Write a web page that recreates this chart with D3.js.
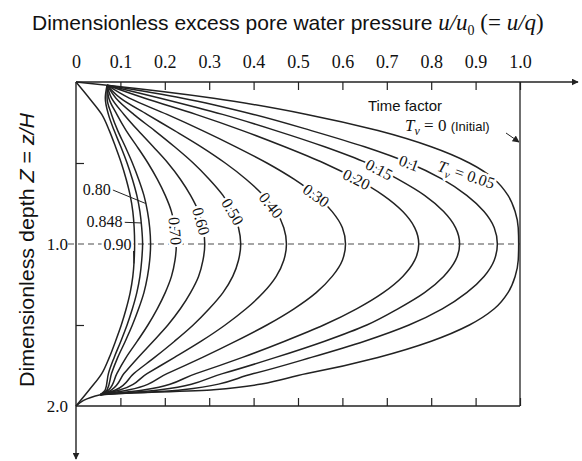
<!DOCTYPE html>
<html>
<head>
<meta charset="utf-8">
<script src="https://cdn.jsdelivr.net/npm/d3@7"></script>
<style>
  body { margin: 0; background: #fff; }
  svg { display: block; }
</style>
</head>
<body>
<div id="chart"></div>
<script>
// isochrones: u/u0 at each depth Z, one list per time factor
// (null = the curve is not drawn through that depth; the scanned curves meet at a
//  point just off the corner, only the outer ones reach the corners themselves)
const timeFactors = [0.05, 0.1, 0.15, 0.2, 0.3, 0.4, 0.5, 0.6, 0.7, 0.8, 0.848, 0.9]
const depths = [0, 0.02, 0.1, 0.2, 0.3, 0.4, 0.5, 0.6, 0.7, 0.8, 0.9, 1.0,
                1.1, 1.2, 1.3, 1.4, 1.5, 1.6, 1.7, 1.8, 1.9, 1.93, 2.0]

const u_005 = [0, 0.07, 0.31, 0.52, 0.68, 0.80, 0.886, 0.942, 0.973, 0.989, 0.996, 0.997, 0.996, 0.989, 0.973, 0.942, 0.886, 0.80, 0.68, 0.52, 0.31, 0.055, 0]
const u_010 = [null, 0.07, 0.24, 0.40, 0.53, 0.65, 0.75, 0.825, 0.88, 0.919, 0.942, 0.949, 0.942, 0.919, 0.88, 0.825, 0.75, 0.65, 0.53, 0.40, 0.24, 0.055, null]
const u_015 = [null, 0.07, 0.19, 0.33, 0.45, 0.56, 0.655, 0.725, 0.785, 0.828, 0.855, 0.864, 0.855, 0.828, 0.785, 0.725, 0.655, 0.56, 0.45, 0.33, 0.19, 0.055, null]
const u_020 = [null, 0.07, 0.155, 0.27, 0.375, 0.47, 0.558, 0.632, 0.692, 0.736, 0.763, 0.772, 0.763, 0.736, 0.692, 0.632, 0.558, 0.47, 0.375, 0.27, 0.155, 0.055, null]
const u_030 = [null, 0.07, 0.12, 0.205, 0.285, 0.36, 0.43, 0.491, 0.541, 0.577, 0.600, 0.607, 0.600, 0.577, 0.541, 0.491, 0.43, 0.36, 0.285, 0.205, 0.12, 0.055, null]
const u_040 = [null, 0.07, 0.10, 0.16, 0.222, 0.282, 0.336, 0.383, 0.422, 0.451, 0.468, 0.474, 0.468, 0.451, 0.422, 0.383, 0.336, 0.282, 0.222, 0.16, 0.10, 0.055, null]
const u_050 = [null, 0.07, 0.09, 0.13, 0.177, 0.222, 0.264, 0.300, 0.331, 0.353, 0.366, 0.371, 0.366, 0.353, 0.331, 0.300, 0.264, 0.222, 0.177, 0.13, 0.09, 0.055, null]
const u_060 = [null, 0.07, 0.08, 0.108, 0.14, 0.174, 0.207, 0.235, 0.258, 0.276, 0.286, 0.290, 0.286, 0.276, 0.258, 0.235, 0.207, 0.174, 0.14, 0.108, 0.08, 0.055, null]
const u_070 = [null, 0.07, 0.074, 0.092, 0.113, 0.138, 0.162, 0.183, 0.201, 0.215, 0.223, 0.226, 0.223, 0.215, 0.201, 0.183, 0.162, 0.138, 0.113, 0.092, 0.074, 0.055, null]
const u_080 = [null, 0.07, 0.07, 0.08, 0.094, 0.111, 0.127, 0.141, 0.153, 0.161, 0.166, 0.168, 0.166, 0.161, 0.153, 0.141, 0.127, 0.111, 0.094, 0.08, 0.07, 0.055, null]
const u_0848 = [null, 0.07, 0.066, 0.073, 0.086, 0.101, 0.115, 0.127, 0.137, 0.144, 0.148, 0.150, 0.148, 0.144, 0.137, 0.127, 0.115, 0.101, 0.086, 0.073, 0.066, 0.055, null]
const u_090 = [0, null, 0.03, 0.058, 0.075, 0.089, 0.102, 0.113, 0.122, 0.128, 0.131, 0.132, 0.131, 0.128, 0.122, 0.113, 0.102, 0.089, 0.075, 0.058, 0.03, null, 0]
const isochrones = [u_005, u_010, u_015, u_020, u_030, u_040, u_050, u_060, u_070, u_080, u_0848, u_090]

// axis ticks
const topTicks = [0, 0.1, 0.2, 0.3, 0.4, 0.5, 0.6, 0.7, 0.8, 0.9, 1.0]
const sideTicks = [0.5, 1.0, 1.5, 2.0]
const sideLabels = {1: '1.0', 2: '2.0'}

// labels written along the curves, and the three with leader lines on the left
const curveLabels = ['0.1', '0.15', '0.20', '0.30', '0.40', '0.50', '0.60', '0.70']
const leaderLabels = ['0.80', '0.848', '0.90']

const width = 582, height = 461
const x = d3.scaleLinear([0, 1], [76, 520])
const y = d3.scaleLinear([0, 2], [82, 406])

const SANS = "'Liberation Sans', Arial, sans-serif"
const SERIF = "'Liberation Serif', 'Times New Roman', serif"
const INK = '#222'

const svg = d3.select('#chart').append('svg')
  .attr('width', width)
  .attr('height', height)
  .attr('viewBox', [0, 0, width, height])

const defs = svg.append('defs')
defs.append('marker')
  .attr('id', 'arrow')
  .attr('viewBox', '0 0 10 10')
  .attr('refX', 9).attr('refY', 5)
  .attr('markerWidth', 7).attr('markerHeight', 7)
  .attr('markerUnits', 'userSpaceOnUse')
  .attr('orient', 'auto')
  .append('path').attr('d', 'M0,0L10,5L0,10z').attr('fill', INK)

// title: sans words, then the serif ratio, all in one text
const title = svg.append('text')
  .attr('x', 32).attr('y', 30)
  .attr('font-size', 21).attr('fill', '#111')
title.append('tspan').attr('font-family', SANS)
  .text('Dimensionless excess pore water pressure ')
const tt = title.append('tspan').attr('font-family', SERIF).attr('font-size', 23)
tt.append('tspan').attr('font-style', 'italic').text('u/u')
tt.append('tspan').attr('font-size', 14).attr('dy', 5).text('0')
tt.append('tspan').attr('dy', -5).text(' (= ')
tt.append('tspan').attr('font-style', 'italic').text('u/q')
tt.append('tspan').text(')')

// y title
const yt = svg.append('text')
  .attr('transform', `translate(34,250) rotate(-90)`)
  .attr('text-anchor', 'middle')
  .attr('font-family', SANS).attr('font-size', 21).attr('fill', '#111')
  .attr('textLength', 274).attr('lengthAdjust', 'spacingAndGlyphs')
yt.append('tspan').text('Dimensionless depth ')
yt.append('tspan').attr('font-style', 'italic').text('Z')
yt.append('tspan').text(' = ')
yt.append('tspan').attr('font-style', 'italic').text('z/H')

// dashed mid line
svg.append('line')
  .attr('x1', 68).attr('x2', x(1))
  .attr('y1', y(1)).attr('y2', y(1))
  .attr('stroke', '#888').attr('stroke-width', 1.6)
  .attr('stroke-dasharray', '6,4')

// frame: right side (initial condition) and bottom
svg.append('line')
  .attr('x1', x(1)).attr('x2', x(1)).attr('y1', y(0)).attr('y2', y(2))
  .attr('stroke', INK).attr('stroke-width', 1.3)

const bottomAxis = svg.append('g')
  .attr('transform', `translate(0,${y(2)})`)
  .call(d3.axisBottom(x).tickValues(topTicks).tickSize(-8).tickFormat(''))
bottomAxis.select('.domain').remove()
bottomAxis.select('.tick line').remove()
svg.append('line')
  .attr('x1', x(0)).attr('x2', x(1)).attr('y1', y(2)).attr('y2', y(2))
  .attr('stroke', INK).attr('stroke-width', 1.3)

// top axis with arrow
const topAxis = svg.append('g')
  .attr('transform', `translate(0,${y(0)})`)
  .call(d3.axisTop(x).tickValues(topTicks).tickSize(-8).tickPadding(14)
    .tickFormat(d => d === 0 ? '0' : d.toFixed(1)))
topAxis.select('.domain').remove()
topAxis.selectAll('text').attr('font-family', SERIF).attr('font-size', 18).attr('fill', '#111')
topAxis.select('.tick line').remove()
svg.append('line')
  .attr('x1', x(0)).attr('x2', 578).attr('y1', y(0)).attr('y2', y(0))
  .attr('stroke', INK).attr('stroke-width', 1.4)
  .attr('marker-end', 'url(#arrow)')

// left axis with arrow
const leftAxis = svg.append('g')
  .attr('transform', `translate(${x(0)},0)`)
  .call(d3.axisLeft(y).tickValues(sideTicks).tickSize(-8).tickPadding(8)
    .tickFormat(d => sideLabels[d] || ''))
leftAxis.select('.domain').remove()
leftAxis.selectAll('.tick').filter(d => d % 1 === 0).select('line').remove()
leftAxis.selectAll('text').attr('font-family', SERIF).attr('font-size', 17).attr('fill', '#111')
svg.append('line')
  .attr('x1', x(0)).attr('x2', x(0)).attr('y1', y(0)).attr('y2', 459)
  .attr('stroke', INK).attr('stroke-width', 1.4)
  .attr('marker-end', 'url(#arrow)')

svg.selectAll('.tick line').attr('stroke', INK).attr('stroke-width', 1.2)

// isochrones
const line = d3.line()
  .x(d => x(d[0]))
  .y(d => y(d[1]))
  .curve(d3.curveMonotoneY)

const series = timeFactors.map((t, i) => ({
  t,
  points: depths.map((z, j) => [isochrones[i][j], z]).filter(d => d[0] != null)
}))

svg.append('g')
  .selectAll('path')
  .data(series)
  .join('path')
  .attr('d', d => line(d.points))
  .attr('fill', 'none')
  .attr('stroke', INK)
  .attr('stroke-width', 1.5)

// point on a curve at depth z, and the slope there (pixels)
const at = (s, z) => {
  const p = s.points
  let k = 1
  while (k < p.length - 1 && p[k][1] < z) k++
  const a = p[k - 1], b = p[k]
  const f = (z - a[1]) / (b[1] - a[1])
  const u = a[0] + f * (b[0] - a[0])
  const ang = Math.atan2(y(b[1]) - y(a[1]), x(b[0]) - x(a[0])) * 180 / Math.PI
  return { px: x(u), py: y(z), ang }
}
const seriesOf = t => series.find(s => s.t === t)

const halo = sel => sel
  .attr('stroke', '#fff').attr('stroke-width', 5)
  .attr('paint-order', 'stroke')

// labels riding on the curves
const labelDepth = { '0.1': 0.5, '0.15': 0.54, '0.20': 0.6, '0.30': 0.7, '0.40': 0.76, '0.50': 0.8, '0.60': 0.86, '0.70': 0.92 }
curveLabels.forEach(txt => {
  const p = at(seriesOf(+txt), labelDepth[txt])
  svg.append('text')
    .attr('transform', `translate(${p.px},${p.py}) rotate(${p.ang})`)
    .attr('text-anchor', 'middle').attr('dy', '0.35em')
    .attr('font-family', SERIF).attr('font-size', 16).attr('fill', '#111')
    .call(halo)
    .text(txt)
})

// Tv = 0.05 on the outermost curve
{
  const p = at(seriesOf(0.05), 0.52)
  const g = svg.append('text')
    .attr('transform', `translate(${p.px - 36},${p.py - 1}) rotate(${p.ang * 0.55})`)
    .attr('dy', '0.35em')
    .attr('font-family', SERIF).attr('font-size', 16).attr('fill', '#111')
    .call(halo)
  g.append('tspan').attr('font-style', 'italic').text('T')
  g.append('tspan').attr('font-style', 'italic').attr('font-size', 11).attr('dy', 4).text('v')
  g.append('tspan').attr('dy', -4).text(' = 0.05')
}

// leader labels on the left
const leaderPos = {
  '0.80': { lx: 0.078, lz: 0.66, cz: 0.75 },
  '0.848': { lx: 0.105, lz: 0.86, cz: 0.87 },
  '0.90': { lx: 0.125, lz: 1.0, cz: 1.12 }
}
leaderLabels.forEach(txt => {
  const o = leaderPos[txt]
  const p = at(seriesOf(+txt), o.cz)
  const lx = x(o.lx), ly = y(o.lz)
  svg.append('line')
    .attr('x1', lx + 2).attr('y1', ly + (txt === '0.90' ? 7 : 1))
    .attr('x2', p.px).attr('y2', p.py)
    .attr('stroke', INK).attr('stroke-width', 1)
  svg.append('text')
    .attr('x', lx).attr('y', ly).attr('dy', '0.35em')
    .attr('text-anchor', 'end')
    .attr('font-family', SERIF).attr('font-size', 16).attr('fill', '#111')
    .call(halo)
    .text(txt)
})

// time factor note
svg.append('text')
  .attr('x', 368).attr('y', 111)
  .attr('font-family', SANS).attr('font-size', 15).attr('fill', '#111')
  .attr('textLength', 74).attr('lengthAdjust', 'spacingAndGlyphs')
  .text('Time factor')
const t0 = svg.append('text')
  .attr('x', 405).attr('y', 131)
  .attr('font-family', SERIF).attr('font-size', 17).attr('fill', '#111')
t0.append('tspan').attr('font-style', 'italic').text('T')
t0.append('tspan').attr('font-style', 'italic').attr('font-size', 12).attr('dy', 4).text('v')
t0.append('tspan').attr('dy', -4).text(' = 0 ')
t0.append('tspan').attr('font-family', SANS).attr('font-size', 13).text('(Initial)')
svg.append('line')
  .attr('x1', 506).attr('y1', 133).attr('x2', x(1) - 1).attr('y2', 142)
  .attr('stroke', INK).attr('stroke-width', 1)
  .attr('marker-end', 'url(#arrow)')
</script>
</body>
</html>
